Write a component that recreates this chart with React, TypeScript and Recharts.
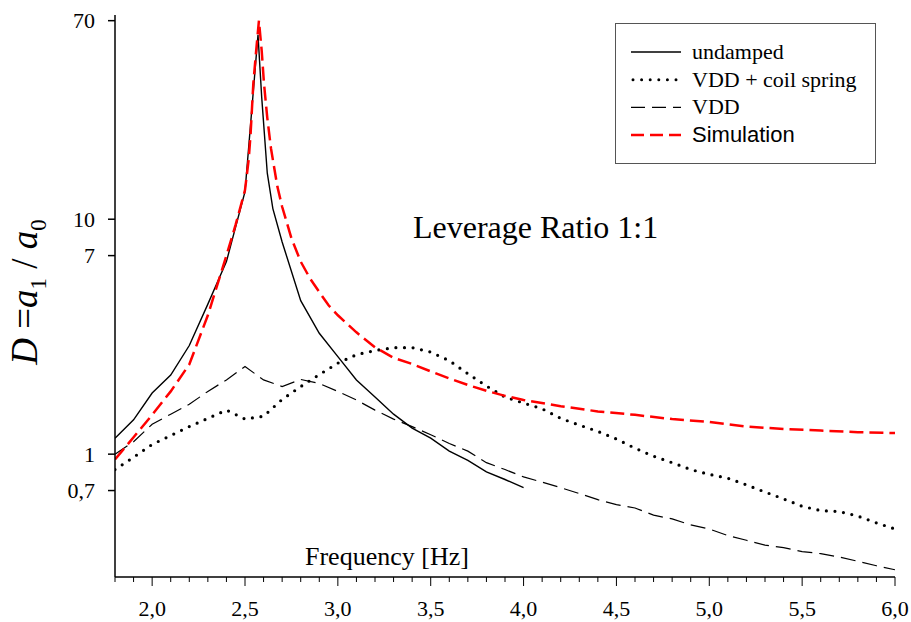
import React from 'react';
import { LineChart, Line, XAxis, YAxis, Legend, Customized } from 'recharts';

// frequency [Hz] / amplification D per series
const undampedFreq = [1.8, 1.9, 2.0, 2.1, 2.2, 2.3, 2.4, 2.5, 2.57, 2.59, 2.62, 2.65, 2.7, 2.8, 2.9, 3.0, 3.1, 3.2, 3.3, 3.4, 3.5, 3.6, 3.7, 3.8, 3.9, 4.0];
const undampedD = [1.17, 1.4, 1.82, 2.17, 2.9, 4.35, 6.6, 13.1, 61, 33, 15.7, 11.1, 8.0, 4.5, 3.27, 2.6, 2.07, 1.75, 1.48, 1.29, 1.17, 1.03, 0.94, 0.84, 0.78, 0.72];

const coilFreq = [1.8, 1.9, 2.0, 2.1, 2.2, 2.3, 2.4, 2.5, 2.6, 2.7, 2.8, 2.9, 3.0, 3.1, 3.2, 3.3, 3.4, 3.5, 3.6, 3.7, 3.8, 3.9, 4.0, 4.1, 4.2, 4.3, 4.4, 4.5, 4.6, 4.7, 4.8, 4.9, 5.0, 5.1, 5.2, 5.3, 5.4, 5.5, 5.6, 5.7, 5.8, 5.9, 6.0];
const coilD = [0.86, 0.97, 1.1, 1.2, 1.31, 1.42, 1.54, 1.41, 1.45, 1.71, 1.94, 2.18, 2.44, 2.65, 2.76, 2.84, 2.84, 2.72, 2.5, 2.2, 1.95, 1.75, 1.65, 1.56, 1.42, 1.33, 1.25, 1.16, 1.06, 0.98, 0.92, 0.86, 0.82, 0.79, 0.74, 0.69, 0.645, 0.6, 0.575, 0.57, 0.545, 0.51, 0.48];

const vddFreq = [1.8, 1.9, 2.0, 2.1, 2.2, 2.3, 2.4, 2.5, 2.6, 2.7, 2.8, 2.9, 3.0, 3.1, 3.2, 3.3, 3.4, 3.5, 3.6, 3.7, 3.8, 3.9, 4.0, 4.1, 4.2, 4.3, 4.4, 4.5, 4.6, 4.7, 4.8, 4.9, 5.0, 5.1, 5.2, 5.3, 5.4, 5.5, 5.6, 5.7, 5.8, 5.9, 6.0];
const vddD = [1.0, 1.13, 1.34, 1.48, 1.63, 1.85, 2.07, 2.36, 2.07, 1.94, 2.08, 2.0, 1.85, 1.7, 1.54, 1.41, 1.31, 1.21, 1.11, 1.03, 0.92, 0.86, 0.8, 0.76, 0.72, 0.68, 0.64, 0.61, 0.59, 0.55, 0.53, 0.5, 0.48, 0.45, 0.43, 0.41, 0.4, 0.385, 0.377, 0.365, 0.35, 0.335, 0.322];

const simFreq = [1.8, 1.9, 2.0, 2.1, 2.2, 2.3, 2.4, 2.45, 2.5, 2.52, 2.53, 2.545, 2.56, 2.575, 2.59, 2.602, 2.62, 2.64, 2.674, 2.7, 2.75, 2.8, 2.85, 2.9, 2.95, 3.0, 3.1, 3.2, 3.3, 3.4, 3.5, 3.6, 3.7, 3.8, 3.9, 4.0, 4.2, 4.4, 4.6, 4.8, 5.0, 5.2, 5.4, 5.6, 5.8, 6.0];
const simD = [0.95, 1.18, 1.47, 1.85, 2.41, 3.9, 7.0, 9.5, 13.3, 18, 23, 38, 52, 70, 52, 38, 27, 20, 13.8, 11.3, 8.3, 6.6, 5.6, 4.9, 4.3, 3.9, 3.3, 2.85, 2.57, 2.42, 2.25, 2.1, 1.97, 1.86, 1.77, 1.7, 1.6, 1.52, 1.47, 1.41, 1.37, 1.31, 1.28, 1.26, 1.24, 1.23];

const xTicks = [1.8, 1.9, 2.0, 2.1, 2.2, 2.3, 2.4, 2.5, 2.6, 2.7, 2.8, 2.9, 3.0, 3.1, 3.2, 3.3, 3.4, 3.5, 3.6, 3.7, 3.8, 3.9, 4.0, 4.1, 4.2, 4.3, 4.4, 4.5, 4.6, 4.7, 4.8, 4.9, 5.0, 5.1, 5.2, 5.3, 5.4, 5.5, 5.6, 5.7, 5.8, 5.9, 6.0];
const yTicks = [0.7, 1, 7, 10, 70];

const SERIF = '"Liberation Serif", "Times New Roman", serif';
const SANS = '"Liberation Sans", Arial, sans-serif';

const toRows = (xs: number[], ys: number[]) => xs.map((x, i) => ({ x, d: ys[i] }));

const undamped = toRows(undampedFreq, undampedD);
const coil = toRows(coilFreq, coilD);
const vdd = toRows(vddFreq, vddD);
const sim = toRows(simFreq, simD);

const comma = (v: number, digits: number) => v.toFixed(digits).replace('.', ',');

function FreqTick(props: any) {
  const { x, y, payload } = props;
  const v = payload.value as number;
  const major = Math.abs(v * 2 - Math.round(v * 2)) < 1e-6;
  return (
    <g>
      <line x1={x} y1={y} x2={x} y2={y + (major ? 9 : 5)} stroke="#000" strokeWidth={1} />
      {major && v > 1.9 && (
        <text x={x} y={y + 39} textAnchor="middle" style={{ fontFamily: SERIF, fontSize: 22 }} fill="#000">
          {comma(v, 1)}
        </text>
      )}
    </g>
  );
}

function DTick(props: any) {
  const { x, y, payload } = props;
  const v = payload.value as number;
  return (
    <text x={x} y={y + 7.5} textAnchor="end" style={{ fontFamily: SERIF, fontSize: 22 }} fill="#000">
      {v < 1 ? comma(v, 1) : String(v)}
    </text>
  );
}

function LegendBox() {
  const rows = [
    { label: 'undamped', stroke: '#000', width: 1.4, dash: undefined, cap: 'butt', font: SERIF },
    { label: 'VDD + coil spring', stroke: '#000', width: 3, dash: '0 8.6', cap: 'round', font: SERIF },
    { label: 'VDD', stroke: '#000', width: 1.3, dash: '14 7', cap: 'butt', font: SERIF },
    { label: 'Simulation', stroke: '#ff0000', width: 2.5, dash: '13 6', cap: 'butt', font: SANS },
  ];
  return (
    <svg width={261} height={141} style={{ display: 'block' }}>
      <rect x={0.5} y={0.5} width={260} height={140} fill="#fff" stroke="#555" strokeWidth={1} />
      {rows.map((r, i) => {
        const cy = 29 + i * 27.7;
        return (
          <g key={r.label}>
            <line x1={r.dash === '0 8.6' ? 18 : 16} y1={cy} x2={66} y2={cy} stroke={r.stroke} strokeWidth={r.width}
              strokeDasharray={r.dash} strokeLinecap={r.cap as any} />
            <text x={77} y={cy + 7} style={{ fontFamily: r.font, fontSize: 22 }} fill="#000">{r.label}</text>
          </g>
        );
      })}
    </svg>
  );
}

function Annotations() {
  return (
    <g>
      <text x={413} y={238} style={{ fontFamily: SERIF, fontSize: 32 }} fill="#000">Leverage Ratio 1:1</text>
      <text x={305} y={565} style={{ fontFamily: SERIF, fontSize: 26 }} fill="#000">Frequency [Hz]</text>
      <text x={37} y={292} transform="rotate(-90 37 292)" textAnchor="middle"
        style={{ fontFamily: SERIF, fontSize: 37, fontStyle: 'italic' }} fill="#000">
        D<tspan style={{ fontStyle: 'normal' }}> =</tspan>a
        <tspan style={{ fontSize: 23, fontStyle: 'normal' }} dy={9}>1</tspan>
        <tspan style={{ fontStyle: 'normal' }} dy={-9}> / </tspan>a
        <tspan style={{ fontSize: 23, fontStyle: 'normal' }} dy={9}>0</tspan>
      </text>
    </g>
  );
}

export default function App() {
  return (
    <div style={{ position: 'absolute', left: 0, top: 0, background: '#fff' }}>
      <LineChart width={911} height={622} margin={{ top: 15, right: 16, bottom: 5, left: 55 }}>
        <XAxis dataKey="x" type="number" domain={[1.8, 6]} ticks={xTicks} allowDataOverflow
          stroke="#000" strokeWidth={1.5} tickSize={0} tickMargin={0} tickLine={false}
          tick={<FreqTick />} height={40} interval={0} />
        <XAxis xAxisId="top" orientation="top" type="number" domain={[1.8, 6]} height={0}
          tick={false} tickLine={false} stroke="#222" strokeWidth={2} />
        <YAxis dataKey="d" type="number" scale="log" domain={[0.3, 74]} ticks={yTicks} allowDataOverflow
          width={60} stroke="#000" strokeWidth={1.5} tickSize={7} tickMargin={13} interval={0}
          tick={<DTick />} />
        <YAxis yAxisId="right" orientation="right" type="number" domain={[0, 1]} width={0}
          tick={false} tickLine={false} stroke="#222" strokeWidth={1.5} />
        <Legend verticalAlign="middle" align="center" content={() => <LegendBox />}
          wrapperStyle={{ left: 615, top: 23, width: 261, height: 141 }} />
        <Line data={undamped} dataKey="d" name="undamped" stroke="#000" strokeWidth={1.4}
          dot={false} isAnimationActive={false} />
        <Line data={coil} dataKey="d" name="VDD + coil spring" stroke="#000" strokeWidth={3.2}
          strokeDasharray="0 8.6" strokeLinecap="round" dot={false} isAnimationActive={false} />
        <Line data={vdd} dataKey="d" name="VDD" stroke="#000" strokeWidth={1.2}
          strokeDasharray="15 7" dot={false} isAnimationActive={false} />
        <Line data={sim} dataKey="d" name="Simulation" stroke="#ff0000" strokeWidth={2.5}
          strokeDasharray="14 6" dot={false} isAnimationActive={false} />
        <Customized component={<Annotations />} />
      </LineChart>
    </div>
  );
}
